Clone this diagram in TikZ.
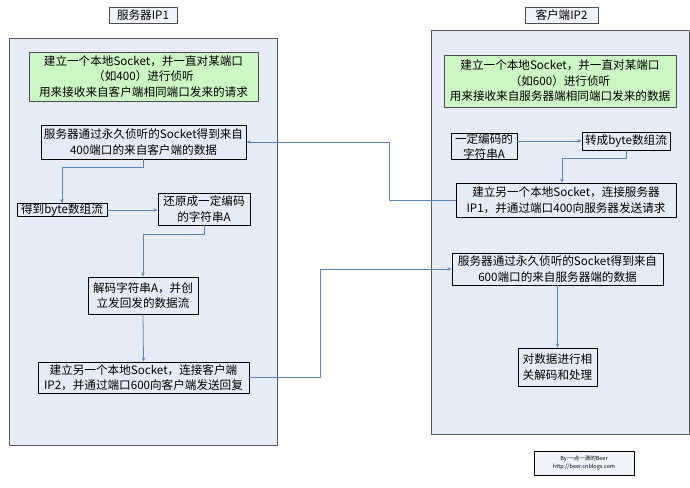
\documentclass[tikz,border=0pt]{standalone}
\usepackage{fontspec}
\setmainfont{Noto Sans CJK SC}
\usetikzlibrary{arrows.meta}
\definecolor{panelbg}{HTML}{E6ECF7}
\definecolor{greenbg}{HTML}{CCF7C4}
\definecolor{linkblue}{HTML}{5B84B8}
\tikzset{
  panel/.style={draw=black!65, fill=panelbg, line width=.8pt},
  box/.style={draw=black, fill=panelbg, line width=.9pt, align=center, inner sep=0pt},
  greenbox/.style={box, fill=greenbg, draw=black!70, line width=.6pt},
  title/.style={box, fill=panelbg!60, draw=black!70, line width=.7pt},
  link/.style={draw=linkblue, line width=.8pt, -{Stealth[length=4pt,width=3.5pt]}}
}
\begin{document}
\begin{tikzpicture}[x=1pt, y=-1pt, font=\fontsize{11.6}{15.5}\selectfont, line join=round]
\useasboundingbox (0,0) rectangle (690,487);
% the two sides
\draw[panel] (9,38) rectangle (277,445);
\draw[panel] (431,30) rectangle (689,434);
\node[title, minimum width=68, minimum height=16] (t1) at (143,15) {服务器IP1};
\node[title, minimum width=73, minimum height=16] (t2) at (561.5,15) {客户端IP2};
% server IP1
\node[greenbox, minimum width=229, minimum height=49] (srvlisten) at (143.5,76.5)
  {建立一个本地Socket，并一直对某端口\\（如400）进行侦听\\用来接收来自客户端相同端口发来的请求};
\node[box, minimum width=205, minimum height=34] (srv1) at (143.5,142)
  {服务器通过永久侦听的Socket得到来自\\400端口的来自客户端的数据};
\node[box, minimum width=90, minimum height=13] (bytes) at (62,210) {得到byte数组流};
\node[box, minimum width=92, minimum height=32] (restore) at (204,209) {还原成一定编码\\的字符串A};
\node[box, minimum width=110, minimum height=37] (decode) at (143,295.5) {解码字符串A，并创\\立发回发的数据流};
\node[box, minimum width=211, minimum height=31] (send) at (143.5,377.5)
  {建立另一个本地Socket，连接客户端\\IP2，并通过端口600向客户端发送回复};
% client IP2
\node[greenbox, minimum width=232, minimum height=52] (clilisten) at (560,81)
  {建立一个本地Socket，并一直对某端口\\（如600）进行侦听\\用来接收来自服务器端相同端口发来的数据};
\node[box, minimum width=66, minimum height=23] (str) at (484,146.5) {一定编码的\\字符串A};
\node[box, minimum width=88, minimum height=18] (conv) at (626,141) {转成byte数组流};
\node[box, minimum width=220, minimum height=34] (req) at (566,200)
  {建立另一个本地Socket，连接服务器\\IP1，并通过端口400向服务器发送请求};
\node[box, minimum width=211, minimum height=32] (recv) at (557.5,269)
  {服务器通过永久侦听的Socket得到来自\\600端口的来自服务器端的数据};
\node[box, minimum width=79, minimum height=38] (proc) at (557.5,367) {对数据进行相\\关解码和处理};
\node[box, fill=panelbg!60, line width=.6pt, minimum width=100, minimum height=24,
  font=\fontsize{5.5}{8}\selectfont] (sig) at (584,463) {By:一点一滴的Beer\\http://beer.cnblogs.com};
% connectors
\draw[link] (req.west) -- ++(-66,0) |- (srv1.east);
\draw[link] (srv1.south) -- ++(0,8) -| (bytes.north);
\draw[link] (bytes.east) -- (bytes.east -| restore.west);
\draw[link] (restore.south) -- ++(0,9) -| (decode.north);
\draw[link] (decode.south) -- (send.north);
\draw[link] (send.east) -- ++(71,0) |- (recv.west);
\draw[link] (recv.south) -- (proc.north);
\draw[link] (conv.west -| str.east) -- (conv.west);
\draw[link] (conv.south) -- ++(0,8) -| ([xshift=-4]req.north);
\end{tikzpicture}
\end{document}
